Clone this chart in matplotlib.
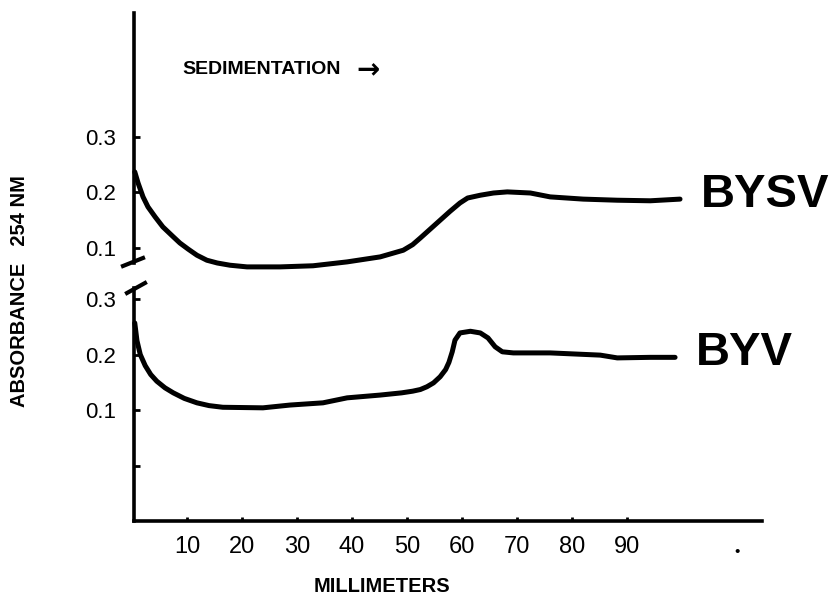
import matplotlib
matplotlib.use("Agg")
import matplotlib.pyplot as plt

plt.rcParams['font.family'] = ['Liberation Sans', 'DejaVu Sans']

# Data (millimeters, absorbance 254 nm)
bysv_mm = [0.5, 1.1, 2.0, 2.9, 4.2, 5.6, 7.3, 8.7, 10.2, 11.8, 13.6, 15.5, 17.8, 20.9,
           26.9, 32.9, 39.1, 45.1, 49.3, 51.0, 52.4, 54.2, 56.0, 57.8, 59.6, 61.0,
           63.3, 65.7, 68.2, 72.4, 76.0, 82.0, 88.2, 94.2, 99.6]
bysv_abs = [0.237, 0.217, 0.192, 0.174, 0.156, 0.138, 0.122, 0.109, 0.098, 0.087, 0.078,
            0.073, 0.069, 0.066, 0.066, 0.068, 0.075, 0.084, 0.096, 0.106, 0.118, 0.134,
            0.150, 0.166, 0.181, 0.190, 0.195, 0.199, 0.201, 0.199, 0.192, 0.188, 0.186,
            0.185, 0.188]

byv_mm = [0.5, 0.9, 1.5, 2.4, 3.4, 4.5, 6.0, 7.5, 9.5, 11.8, 14.0, 16.5, 23.8, 28.7,
          34.7, 39.1, 45.1, 49.0, 51.0, 52.4, 53.6, 54.8, 56.0, 57.0, 57.6, 58.2, 58.7,
          59.6, 61.5, 63.3, 64.7, 66.0, 67.3, 69.3, 72.4, 76.0, 85.1, 88.2, 94.2, 98.7]
byv_abs = [0.257, 0.225, 0.200, 0.180, 0.164, 0.152, 0.140, 0.131, 0.121, 0.113, 0.108,
           0.105, 0.104, 0.109, 0.113, 0.122, 0.127, 0.131, 0.134, 0.137, 0.142, 0.149,
           0.160, 0.173, 0.186, 0.205, 0.226, 0.239, 0.242, 0.239, 0.230, 0.214, 0.205,
           0.203, 0.203, 0.203, 0.199, 0.194, 0.195, 0.195]

x_ticks = [10, 20, 30, 40, 50, 60, 70, 80, 90]
x_tick_labels = ['10', '20', '30', '40', '50', '60', '70', '80', '90']
top_y_ticks = [0.1, 0.2, 0.3]
top_y_labels = ['0.1', '0.2', '0.3']
bot_y_ticks = [0.0, 0.1, 0.2, 0.3]
bot_y_labels = ['', '0.1', '0.2', '0.3']

W, H = 832, 597
fig = plt.figure(figsize=(W / 100, H / 100), dpi=100)

def fx(px):
    return px / W

def fy(py):
    return 1 - py / H

left, right = 134, 762
ax_top = fig.add_axes([fx(left), fy(263), fx(right - left), fy(13) - fy(263)])
ax_bot = fig.add_axes([fx(left), fy(521), fx(right - left), fy(288) - fy(521)])

xlim = (0.36, 114.5)
ax_top.set_xlim(*xlim)
ax_bot.set_xlim(*xlim)
ax_top.set_ylim(0.073, 0.523)
ax_bot.set_ylim(-0.1, 0.32)

lw_axis = 2.6
lw_curve = 3.6
for ax in (ax_top, ax_bot):
    for s in ('top', 'right'):
        ax.spines[s].set_visible(False)
    ax.spines['left'].set_linewidth(lw_axis)
    ax.spines['bottom'].set_linewidth(lw_axis)
    ax.patch.set_alpha(0)
    ax.tick_params(axis='y', direction='in', length=4, width=2, pad=13, labelsize=16)
    ax.tick_params(axis='x', direction='in', length=3, width=2, pad=11, labelsize=17)
ax_top.spines['bottom'].set_visible(False)
ax_top.set_xticks([])

ax_top.set_yticks(top_y_ticks)
ax_top.set_yticklabels(top_y_labels)
ax_bot.set_yticks(bot_y_ticks)
ax_bot.set_yticklabels(bot_y_labels)
ax_bot.set_xticks(x_ticks)
ax_bot.set_xticklabels(x_tick_labels)

ax_top.plot(bysv_mm, bysv_abs, color='black', lw=lw_curve, solid_capstyle='round',
            solid_joinstyle='round', clip_on=False)
ax_bot.plot(byv_mm, byv_abs, color='black', lw=lw_curve, solid_capstyle='round',
            solid_joinstyle='round', clip_on=False)

# axis break marks
fig.add_artist(plt.Line2D([fx(123), fx(143)], [fy(266), fy(258)], color='black', lw=3))
fig.add_artist(plt.Line2D([fx(127), fx(145)], [fy(293), fy(283)], color='black', lw=3))

# labels
ax_top.text(103.3, 0.196, 'BYSV', fontsize=34, fontweight='bold', va='center', ha='left')
ax_bot.text(102.4, 0.202, 'BYV', fontsize=34, fontweight='bold', va='center', ha='left')
fig.text(fx(182), fy(70), 'SEDIMENTATION', fontsize=14, fontweight='bold',
         va='center', ha='left')
fig.text(fx(356), fy(70), '\u2192', fontsize=20, fontweight='bold',
         va='center', ha='left', family=['DejaVu Sans'])
ax_bot.text(110, -0.155, '\u2022', fontsize=11, ha='center', va='center')

fig.text(fx(382), fy(587), 'MILLIMETERS', fontsize=14.5, fontweight='bold',
         ha='center', va='center')
fig.text(fx(20), fy(291), 'ABSORBANCE   254 NM', fontsize=14.5, fontweight='bold',
         rotation=90, ha='center', va='center')

fig.savefig('out.png', dpi=100)
